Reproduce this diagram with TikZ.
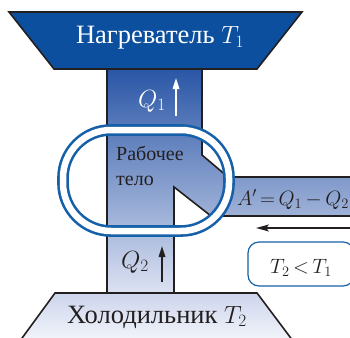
\documentclass[tikz,border=0pt]{standalone}
\usepackage{fontspec}
\setmainfont{Liberation Serif}
\usetikzlibrary{arrows.meta,positioning,calc}
\definecolor{heatblue}{HTML}{0B4F9E}
\definecolor{ringblue}{HTML}{1560A8}
\definecolor{bodytop}{HTML}{2A56A6}
\definecolor{bodybot}{HTML}{DCE2F2}
\definecolor{coldtop}{HTML}{CDD5EC}
\definecolor{coldbot}{HTML}{F6F8FC}
\definecolor{inkdark}{HTML}{231F20}
\begin{document}
\begin{tikzpicture}[x=1pt, y=-1pt,
    wall/.style={draw=inkdark, line width=1.6pt, line join=miter},
    bigtxt/.style={font=\fontsize{26.5}{30}\selectfont, inner sep=0pt, anchor=base},
    midtxt/.style={font=\fontsize{22}{26}\selectfont, inner sep=0pt, anchor=base},
    qtxt/.style={font=\fontsize{24}{28}\selectfont, inner sep=0pt, anchor=base},
    lbl/.style={font=\fontsize{20}{25}\selectfont, align=left, inner sep=0pt, text=inkdark},
    heatarr/.style={-{Triangle[length=11pt,width=6.5pt]}, line width=1.6pt},
    workarr/.style={-{Stealth[length=13pt,width=7pt,inset=3pt]}, line width=1.4pt}]
  \useasboundingbox (0,0) rectangle (350,337);
  \clip (0,0) rectangle (350,337);
  % heater, working body, cooler
  \draw[wall, fill=heatblue] (9,12) -- (302,12) -- (257,69) -- (54,69) -- cycle;
  \draw[wall, top color=bodytop, bottom color=bodybot] (107,69) -- (202,69) -- (202,155)
    -- (228,177) -- (360,177) -- (360,216) -- (211,216) -- (174,187) -- (174,293)
    -- (107,293) -- cycle;
  \draw[wall, top color=coldtop, bottom color=coldbot] (55,293) -- (257,293) -- (296,345)
    -- (17,345) -- cycle;
  \node[bigtxt, text=white] (heater) at (160,44) {Нагреватель $T_1$};
  \node[bigtxt, text=inkdark] (cooler) at (157,323) {Холодильник $T_2$};
  % ring round the working body
  \node[draw=ringblue, line width=2.6pt, double=white, double distance=6.5pt,
    rounded corners=48pt, minimum width=166pt, minimum height=101pt, inner sep=0pt]
    (ring) at (146,180.5) {};
  \node[lbl, anchor=north west] (work) at (116,146) {Рабочее\\тело};
  % heat flows
  \node[qtxt, text=white] (q1) at (152,107) {$Q_1$};
  \coordinate (q1tail) at (176,116);
  \coordinate (q1head) at (176,78);
  \draw[heatarr, white] (q1tail) -- (q1head);
  \node[qtxt, text=inkdark] (q2) at (135,268) {$Q_2$};
  \coordinate (q2tail) at (162,282);
  \coordinate (q2head) at (162,246);
  \draw[heatarr, inkdark] (q2tail) -- (q2head);
  % work output
  \node[midtxt, text=inkdark] (worklbl) at (293,205) {$A'\,{=}\,Q_1\,{-}\,Q_2$};
  \coordinate (armtail) at (352,228);
  \coordinate (armhead) at (256,228);
  \draw[workarr, inkdark] (armtail) -- (armhead);
  \node[draw=ringblue, line width=1.2pt, rounded corners=11pt, minimum width=106pt,
    minimum height=44pt] (cmp) at (301,264) {};
  \node[midtxt, text=inkdark] (cmptxt) at (301,273) {$T_2\,{<}\,T_1$};
\end{tikzpicture}
\end{document}
